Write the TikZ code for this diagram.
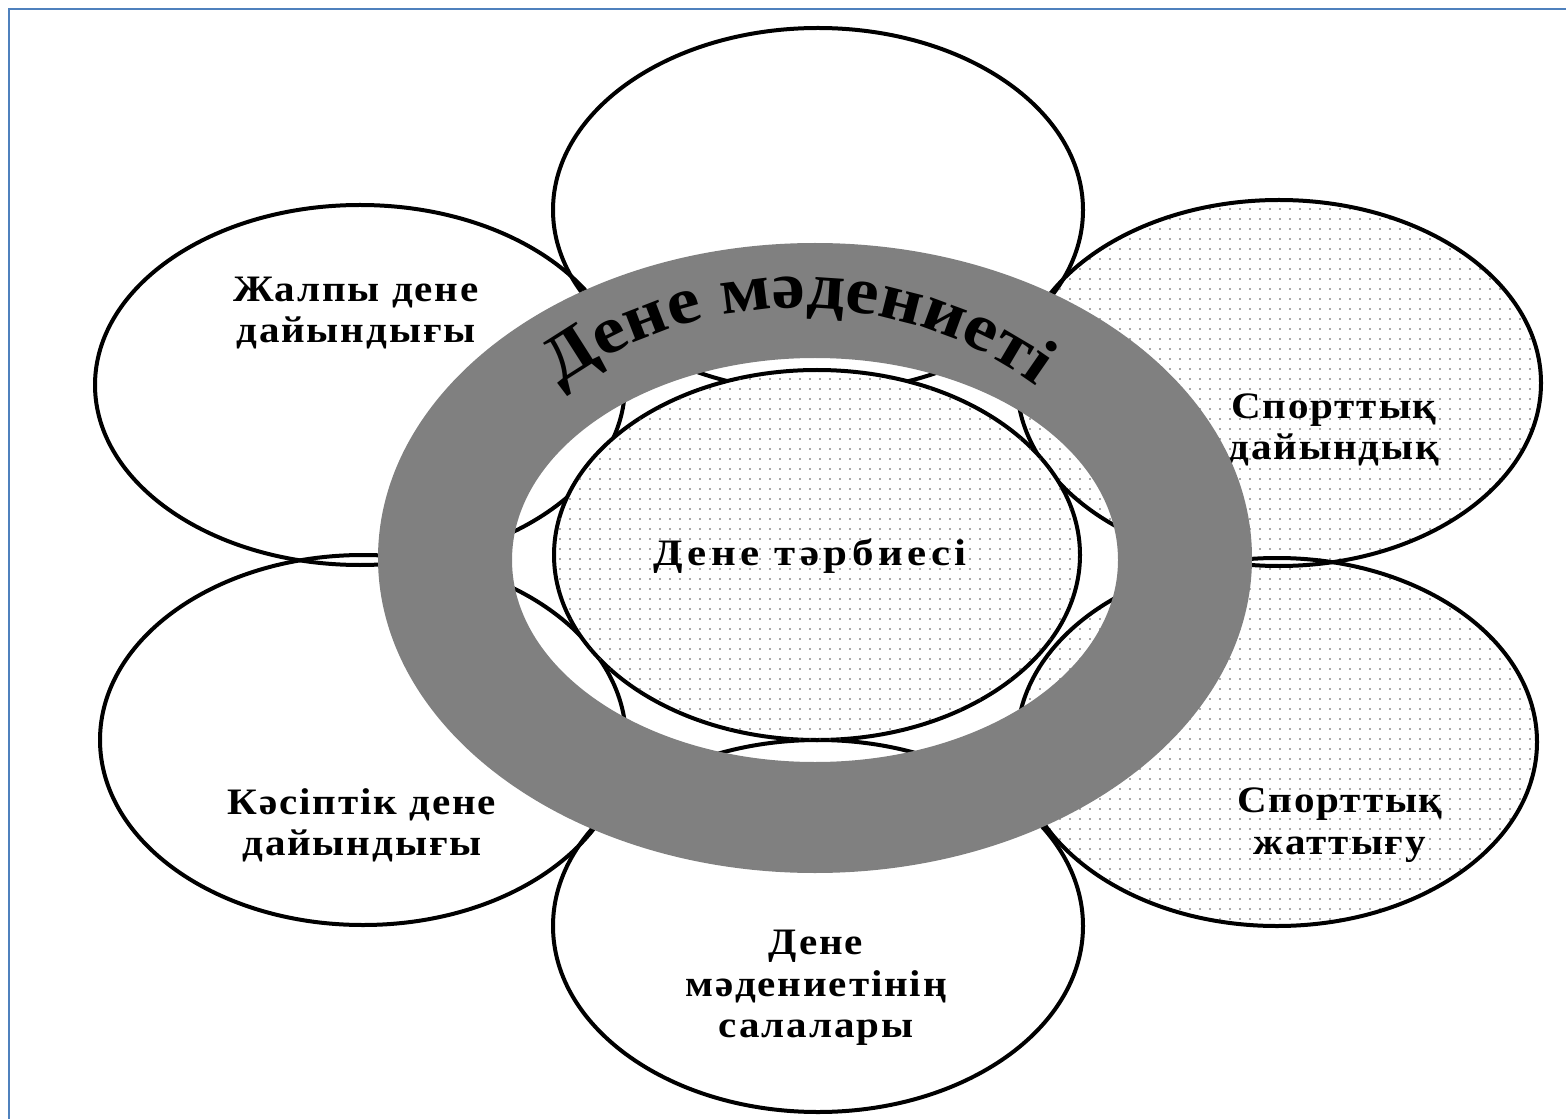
\documentclass[tikz,border=0pt]{standalone}
\usepackage{fontspec}
\setmainfont{Liberation Serif}
\usetikzlibrary{patterns.meta,decorations.text}

\definecolor{frameblue}{RGB}{79,129,189}
\definecolor{ringgray}{RGB}{128,128,128}
\definecolor{dotgray}{RGB}{80,80,80}

\newcommand{\lblfont}{\fontsize{28}{31}\selectfont\bfseries\addfontfeature{FakeStretch=1.1,LetterSpace=5}}
\newcommand{\midfont}{\fontsize{28}{31}\selectfont\bfseries\addfontfeature{FakeStretch=1.15,LetterSpace=12}}
\newcommand{\arcfont}{\fontsize{50}{60}\selectfont\bfseries\addfontfeature{FakeStretch=1.12}}

\tikzset{every picture/.style={line width=0.75pt}}
\tikzset{
  petal/.style={line width=3pt},
  dotfill/.style={pattern={Dots[distance=7.5pt,radius=0.6pt]},pattern color=dotgray},
  lbl/.style={inner sep=0.75pt,align=center,font=\lblfont}
}

\begin{document}
\begin{tikzpicture}[x=0.75pt,y=0.75pt,yscale=-1,xscale=1]
\useasboundingbox (0,0) rectangle (1566,1119);

%Shape: Ellipse [id:petalTop]
\draw [petal] (818,210) ellipse (265 and 182);
%Shape: Ellipse [id:petalUpLeft]
\draw [petal] (360,385) ellipse (265 and 180);
%Shape: Ellipse [id:petalLowLeft]
\draw [petal] (363,740) ellipse (263 and 185);
%Shape: Ellipse [id:petalUpRight]
\draw [petal,dotfill] (1279,383) ellipse (262 and 183);
%Shape: Ellipse [id:petalLowRight]
\draw [petal,dotfill] (1277,742) ellipse (260 and 184);
%Shape: Ellipse [id:petalBottom]
\draw [petal] (818,926) ellipse (265 and 186);

% Text Node
\draw (356,313) node [lbl] (general) {Жалпы дене\\дайындығы};
% Text Node
\draw (362,825) node [lbl] (professional) {Кәсіптік дене\\дайындығы};
% Text Node
\draw (1334,430) node [lbl] (sportPrep) {Спорттық\\дайындық};
% Text Node
\draw (1340,825) node [lbl] (sportTrain) {Спорттық\\жаттығу};
% Text Node
\draw (816,988) node [lbl] (branches) {Дене\\мәдениетінің\\салалары};

%Shape: Ellipse [id:centre]
\draw [petal,fill=white] (817,555) ellipse (263 and 185);
\fill [dotfill] (817,555) ellipse (263 and 185);
% Text Node
\draw (810,556) node [lbl,font=\midfont] (education) {Дене тәрбиесі};

%Shape: Ring [id:cultureRing]
\fill [ringgray,even odd rule] (815,558) ellipse (437 and 315) (815,560) ellipse (303 and 202);

% Curved Text
\path [decorate,decoration={text along path,text align=center,text={|\arcfont|Дене мәдениеті}}]
  (798,713) ++(215:405) arc [start angle=215,end angle=325,radius=405];

%Shape: Frame
\draw [frameblue,line width=1.5pt] (9,1119) -- (9,9) -- (1566,9);

\end{tikzpicture}
\end{document}
